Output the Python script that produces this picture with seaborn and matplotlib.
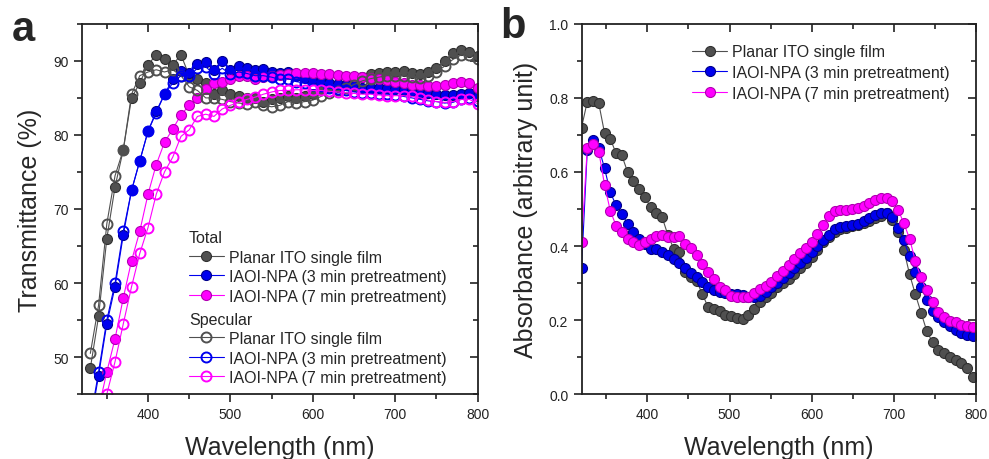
import numpy as np
import pandas as pd
import seaborn as sns
import matplotlib.pyplot as plt
from matplotlib.ticker import MultipleLocator

# ---- panel a: transmittance (10 nm steps) ----
wl_t = list(range(330, 801, 10))

tot_ito = [48.5, 55.5, 66.0, 73.0, 78.0, 85.0, 87.0, 89.5, 90.8, 90.2,
           89.5, 90.8, 88.0, 87.5, 87.0, 85.5, 86.0, 85.5, 85.2, 85.0,
           85.0, 84.5, 84.8, 85.0, 85.2, 85.0, 85.2, 85.5, 86.0, 86.3,
           86.5, 86.8, 87.3, 87.8, 88.2, 88.4, 88.5, 88.5, 88.6, 88.3,
           88.2, 88.5, 89.0, 90.0, 91.0, 91.5, 91.2, 90.7]
tot_3min = [41.0, 47.5, 54.5, 59.5, 66.5, 72.5, 76.5, 80.5, 83.2, 85.5,
            87.5, 88.6, 88.4, 89.6, 89.8, 88.8, 90.0, 88.8, 89.3, 89.0,
            88.8, 88.9, 88.5, 88.3, 88.5, 88.0, 87.7, 87.5, 87.3, 87.0,
            86.9, 86.7, 86.6, 86.4, 86.4, 86.3, 86.3, 86.2, 86.0, 85.9,
            85.7, 85.6, 85.5, 85.4, 85.4, 85.5, 85.6, 85.3]
tot_7min = [38.0, 43.0, 48.0, 52.5, 58.0, 63.0, 67.0, 72.0, 76.0, 79.0,
            80.8, 82.7, 84.0, 85.0, 86.2, 87.0, 87.2, 87.5, 87.9, 87.9,
            87.5, 87.8, 88.0, 88.1, 88.2, 88.3, 88.3, 88.3, 88.2, 88.2,
            88.1, 88.0, 87.9, 87.8, 87.7, 87.6, 87.4, 87.2, 87.0, 86.8,
            86.7, 86.6, 86.6, 86.7, 87.0, 87.2, 87.0, 86.4]
spec_ito = [50.5, 57.0, 68.0, 74.5, 78.0, 85.5, 88.0, 88.5, 88.8, 88.5,
            88.8, 88.0, 86.5, 86.0, 85.0, 85.0, 84.8, 84.5, 84.3, 84.2,
            84.5, 84.0, 83.8, 84.0, 84.5, 84.3, 84.5, 84.7, 85.2, 85.7,
            86.0, 86.3, 86.8, 87.3, 87.6, 87.8, 88.0, 88.0, 88.0, 87.8,
            87.7, 88.0, 88.5, 89.3, 90.2, 90.8, 90.8, 90.3]
spec_3min = [41.5, 48.0, 55.0, 60.0, 67.0, 72.5, 76.5, 80.5, 83.0, 85.5,
             87.0, 88.0, 88.0, 89.0, 89.2, 88.2, 89.0, 88.2, 88.5, 88.3,
             88.0, 88.0, 87.8, 87.5, 87.6, 87.2, 87.0, 86.8, 86.6, 86.3,
             86.2, 86.0, 85.8, 85.7, 85.6, 85.5, 85.5, 85.4, 85.2, 85.0,
             84.8, 84.6, 84.5, 84.3, 84.4, 84.8, 85.0, 84.6]
spec_7min = [35.0, 39.5, 45.0, 49.4, 54.5, 59.5, 64.0, 67.5, 72.0, 75.0,
             77.0, 79.8, 80.7, 82.5, 82.8, 82.5, 83.5, 84.0, 84.4, 84.8,
             85.1, 85.5, 85.8, 86.0, 86.0, 86.1, 86.1, 86.0, 86.0, 85.9,
             85.8, 85.7, 85.6, 85.5, 85.5, 85.4, 85.3, 85.3, 85.3, 85.2,
             85.0, 84.7, 84.5, 84.4, 84.5, 84.8, 84.8, 84.2]

# ---- panel b: absorbance (7 nm steps) ----
wl_a = list(range(320, 801, 7))

abs_ito = [0.72, 0.79, 0.792, 0.785, 0.705, 0.69, 0.65, 0.645, 0.60, 0.575,
           0.555, 0.532, 0.505, 0.49, 0.478, 0.43, 0.393, 0.385, 0.33, 0.315,
           0.305, 0.27, 0.235, 0.23, 0.225, 0.215, 0.21, 0.205, 0.203, 0.213,
           0.23, 0.25, 0.262, 0.272, 0.29, 0.30, 0.31, 0.325, 0.34, 0.355,
           0.37, 0.39, 0.41, 0.425, 0.437, 0.445, 0.45, 0.455, 0.458, 0.462,
           0.468, 0.475, 0.482, 0.488, 0.47, 0.437, 0.39, 0.324, 0.27, 0.22,
           0.17, 0.14, 0.12, 0.11, 0.10, 0.093, 0.085, 0.07, 0.045]
abs_3min = [0.34, 0.66, 0.685, 0.665, 0.61, 0.545, 0.51, 0.487, 0.46, 0.438,
            0.42, 0.405, 0.393, 0.392, 0.385, 0.377, 0.365, 0.355, 0.34, 0.327,
            0.315, 0.302, 0.29, 0.282, 0.276, 0.272, 0.27, 0.27, 0.268, 0.262,
            0.263, 0.266, 0.275, 0.288, 0.30, 0.313, 0.327, 0.34, 0.353, 0.368,
            0.384, 0.40, 0.415, 0.43, 0.445, 0.452, 0.455, 0.457, 0.46, 0.467,
            0.475, 0.483, 0.489, 0.49, 0.478, 0.45, 0.415, 0.372, 0.33, 0.29,
            0.255, 0.225, 0.207, 0.195, 0.185, 0.173, 0.165, 0.16, 0.157]
abs_7min = [0.41, 0.665, 0.675, 0.655, 0.565, 0.495, 0.455, 0.437, 0.42, 0.41,
            0.403, 0.412, 0.42, 0.426, 0.43, 0.424, 0.425, 0.428, 0.405, 0.395,
            0.375, 0.352, 0.33, 0.31, 0.29, 0.28, 0.265, 0.261, 0.261, 0.263,
            0.273, 0.284, 0.292, 0.303, 0.318, 0.333, 0.35, 0.365, 0.38, 0.396,
            0.412, 0.432, 0.458, 0.48, 0.495, 0.498, 0.497, 0.50, 0.504, 0.509,
            0.515, 0.523, 0.53, 0.53, 0.522, 0.498, 0.462, 0.42, 0.36, 0.315,
            0.28, 0.248, 0.223, 0.207, 0.198, 0.194, 0.188, 0.185, 0.18]

labels = ['Planar ITO single film', 'IAOI-NPA (3 min pretreatment)',
          'IAOI-NPA (7 min pretreatment)']
colors = ['#505050', '#0000ee', '#ff00ff']
edges = ['#303030', '#00008a', '#b000b0']

sns.set_style('ticks')
plt.rcParams['font.family'] = ['Liberation Sans', 'DejaVu Sans']
plt.rcParams['axes.linewidth'] = 1.3

fig = plt.figure(figsize=(9.89, 4.6), dpi=100)
ax1 = fig.add_axes([0.083, 0.141, 0.400, 0.805])
ax2 = fig.add_axes([0.588, 0.141, 0.399, 0.805])

ms = 7.2
tot_h, spec_h = [], []
for ys, c, e, lab in zip([tot_ito, tot_3min, tot_7min], colors, edges, labels):
    sns.lineplot(x=wl_t, y=ys, ax=ax1, color=c, lw=0.8, marker='o', ms=ms,
                 mfc=c, mec=e, mew=0.8, sort=False, estimator=None)
    tot_h.append(plt.Line2D([], [], color=c, lw=0.8, marker='o', ms=ms,
                            mfc=c, mec=e, mew=0.8))
for ys, c, lab in zip([spec_ito, spec_3min, spec_7min], colors, labels):
    sns.lineplot(x=wl_t, y=ys, ax=ax1, color=c, lw=0.8, marker='o', ms=ms,
                 mfc='none', mec=c, mew=1.4, sort=False, estimator=None)
    spec_h.append(plt.Line2D([], [], color=c, lw=0.8, marker='o', ms=ms,
                             mfc='none', mec=c, mew=1.4))

abs_h = []
for ys, c, e, lab in zip([abs_ito, abs_3min, abs_7min], colors, edges, labels):
    sns.lineplot(x=wl_a, y=ys, ax=ax2, color=c, lw=0.8, marker='o', ms=ms,
                 mfc=c, mec=e, mew=0.8, sort=False, estimator=None)
    abs_h.append(plt.Line2D([], [], color=c, lw=0.8, marker='o', ms=ms,
                            mfc=c, mec=e, mew=0.8))

leg_kw = dict(frameon=False, fontsize=11.5, title_fontsize=11.5,
              handlelength=2.2, handletextpad=0.3,
              borderpad=0, borderaxespad=0, loc='upper left', alignment='left')
leg1 = ax1.legend(tot_h, labels, title='Total', labelspacing=0.28,
                  bbox_to_anchor=(0.27, 0.443), **leg_kw)
ax1.add_artist(leg1)
ax1.legend(spec_h, labels, title='Specular', labelspacing=0.28,
           bbox_to_anchor=(0.27, 0.223), **leg_kw)
ax2.legend(abs_h, labels, labelspacing=0.36, bbox_to_anchor=(0.28, 0.945), **leg_kw)

ax1.set_xlim(320, 800)
ax1.set_ylim(45, 95)
ax1.set_yticks([50, 60, 70, 80, 90])
ax1.yaxis.set_minor_locator(MultipleLocator(5))
ax1.set_ylabel('Transmittance (%)', fontsize=18, labelpad=8)

ax2.set_xlim(320, 800)
ax2.set_ylim(0, 1.0)
ax2.yaxis.set_major_locator(MultipleLocator(0.2))
ax2.yaxis.set_minor_locator(MultipleLocator(0.1))
ax2.yaxis.set_major_formatter(plt.FormatStrFormatter('%.1f'))
ax2.set_ylabel('Absorbance (arbitrary unit)', fontsize=18, labelpad=8)

for ax in (ax1, ax2):
    ax.set_xticks([400, 500, 600, 700, 800])
    ax.xaxis.set_minor_locator(MultipleLocator(50))
    ax.set_xlabel('Wavelength (nm)', fontsize=18, labelpad=10)
    ax.tick_params(which='both', labelsize=10, colors='#222222', width=1.2,
                   direction='out', top=False, right=False)
    ax.tick_params(which='major', length=6)
    ax.tick_params(which='minor', length=3.5)
    for sp in ax.spines.values():
        sp.set_visible(True)
        sp.set_color('#222222')
    # mirrored ticks pointing inward on top and right
    top = ax.secondary_xaxis('top')
    top.set_xticks(ax.get_xticks())
    top.xaxis.set_minor_locator(MultipleLocator(50))
    right = ax.secondary_yaxis('right')
    right.set_yticks(ax.get_yticks())
    right.yaxis.set_minor_locator(ax.yaxis.get_minor_locator())
    for sec in (top, right):
        sec.tick_params(which='both', direction='in', width=1.2, colors='#222222',
                        labeltop=False, labelright=False)
        sec.tick_params(which='major', length=6)
        sec.tick_params(which='minor', length=3.5)
        for sp in sec.spines.values():
            sp.set_visible(False)

fig.text(0.012, 0.978, 'a', fontsize=30, fontweight='bold', va='top')
fig.text(0.506, 0.985, 'b', fontsize=30, fontweight='bold', va='top')

plt.savefig('out.png', dpi=100)
plt.close()
